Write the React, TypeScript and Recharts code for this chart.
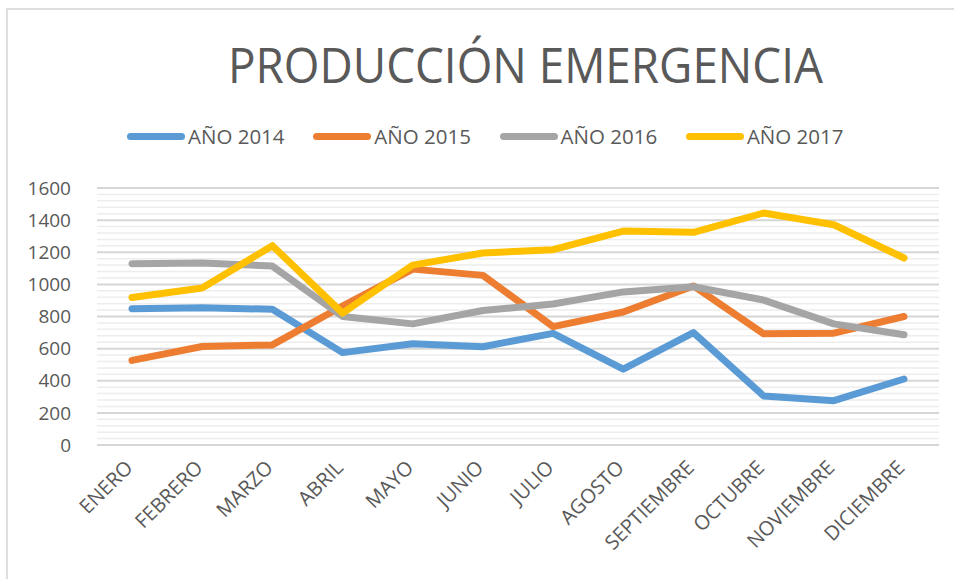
import React from 'react';
import { LineChart, Line, XAxis, YAxis, CartesianGrid, ReferenceLine } from 'recharts';

const months = ['ENERO', 'FEBRERO', 'MARZO', 'ABRIL', 'MAYO', 'JUNIO', 'JULIO', 'AGOSTO', 'SEPTIEMBRE', 'OCTUBRE', 'NOVIEMBRE', 'DICIEMBRE'];
const y2014 = [848, 855, 845, 575, 630, 612, 695, 472, 700, 305, 276, 411];
const y2015 = [527, 613, 623, 865, 1095, 1056, 737, 828, 990, 692, 696, 800];
const y2016 = [1128, 1133, 1114, 800, 754, 837, 878, 953, 985, 902, 754, 686];
const y2017 = [918, 977, 1241, 821, 1120, 1195, 1216, 1332, 1324, 1444, 1371, 1164];
const yTicks = [0, 200, 400, 600, 800, 1000, 1200, 1400, 1600];

// minor gridlines every 40 (Excel minor unit), skipping the major ones
const minorTicks: number[] = [];
for (let v = 40; v < 1600; v += 40) if (v % 200 !== 0) minorTicks.push(v);

const series = [
    { key: 'a2014', name: 'AÑO 2014', color: '#5B9BD5' },
    { key: 'a2015', name: 'AÑO 2015', color: '#ED7D31' },
    { key: 'a2016', name: 'AÑO 2016', color: '#A5A5A5' },
    { key: 'a2017', name: 'AÑO 2017', color: '#FFC000' },
];

const data = months.map((m, i) => ({
    month: m,
    a2014: y2014[i],
    a2015: y2015[i],
    a2016: y2016[i],
    a2017: y2017[i],
}));

const FONT = "'Open Sans', 'DejaVu Sans', sans-serif";
const TEXT = '#595959';

const MonthTick = (props: any) => {
    const { x, y, payload } = props;
    const tx = x - 3;
    const ty = y + 11;
    return (
        <text x={tx} y={ty} transform={`rotate(-45 ${tx} ${ty})`} textAnchor="end" dy="0.35em"
            fill={TEXT} fontSize={20} fontFamily={FONT}>
            {payload.value}
        </text>
    );
};

export default function App() {
    return (
        <div style={{ position: 'absolute', left: 0, top: 0, width: 954, height: 579, background: '#fff', overflow: 'hidden' }}>
            <div style={{ position: 'absolute', left: 6, top: 8, right: -4, bottom: -4, borderTop: '2px solid #dedede', borderLeft: '2px solid #dedede' }} />
            <svg width={954} height={100} style={{ position: 'absolute', left: 0, top: 0 }}>
                <text x={228} y={83} fill={TEXT} fontSize={49} fontFamily={FONT} textLength={595} lengthAdjust="spacingAndGlyphs">
                    PRODUCCIÓN EMERGENCIA
                </text>
            </svg>
            <div style={{ position: 'absolute', left: 127, top: 122, display: 'flex', fontFamily: FONT, fontSize: 20.5, color: TEXT }}>
                {series.map((s) => (
                    <div key={s.key} style={{ width: 186.3, display: 'flex', alignItems: 'center', height: 28 }}>
                        <div style={{ width: 58, height: 7, borderRadius: 4, background: s.color, marginRight: 3 }} />
                        <span>{s.name}</span>
                    </div>
                ))}
            </div>
            <LineChart width={954} height={579} data={data} margin={{ top: 188, right: 15, bottom: 0, left: 0 }}>
                <CartesianGrid vertical={false} stroke="#d6d6d6" strokeWidth={2} />
                {minorTicks.map((v) => (
                    <ReferenceLine key={v} y={v} stroke="#ededed" strokeWidth={1.5} />
                ))}
                <XAxis dataKey="month" height={134} padding={{ left: 35, right: 35 }} interval={0}
                    axisLine={false} tickLine={false} tick={<MonthTick />} />
                <YAxis width={97} domain={[0, 1600]} ticks={yTicks} axisLine={false} tickLine={false}
                    tick={{ fill: TEXT, fontSize: 19, fontFamily: FONT }} tickMargin={20} />
                {series.map((s) => (
                    <Line key={s.key} dataKey={s.key} name={s.name} stroke={s.color} strokeWidth={7}
                        strokeLinecap="round" strokeLinejoin="round" dot={false} activeDot={false}
                        isAnimationActive={false} />
                ))}
            </LineChart>
        </div>
    );
}
